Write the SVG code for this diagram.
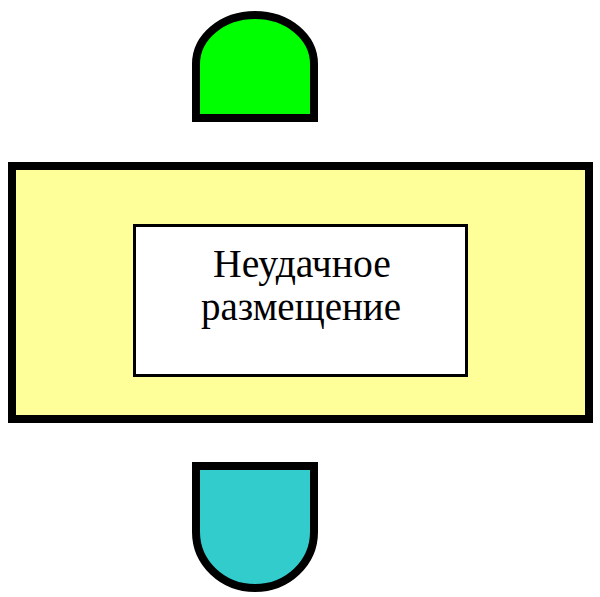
<svg xmlns="http://www.w3.org/2000/svg" width="600" height="597" viewBox="0 0 600 597">
<style>
.shape{stroke:#000;stroke-width:8;stroke-linejoin:miter}
.lbl{font-family:"Liberation Serif","Times New Roman",serif;font-size:39px;fill:#000;text-anchor:middle}
</style>
<rect width="600" height="597" fill="#fff"/>
<g id="top-connector">
<path class="shape" fill="#00ff00" d="M196,118 L196,64 A59,49 0 0 1 314,64 L314,118 Z"/>
</g>
<g id="block">
<rect class="shape" fill="#ffff99" x="12" y="166" width="577" height="253"/>
</g>
<g id="label">
<rect x="134.5" y="225.5" width="332" height="150" fill="#fff" stroke="#000" stroke-width="3"/>
<text class="lbl" x="302" y="277" textLength="178" lengthAdjust="spacingAndGlyphs">Неудачное</text>
<text class="lbl" x="301" y="320" textLength="200" lengthAdjust="spacingAndGlyphs">размещение</text>
</g>
<g id="bottom-connector">
<path class="shape" fill="#33cccc" d="M196,466 L314,466 L314,532 A59,56 0 0 1 196,532 Z"/>
</g>
<g id="connectors"></g>
</svg>
